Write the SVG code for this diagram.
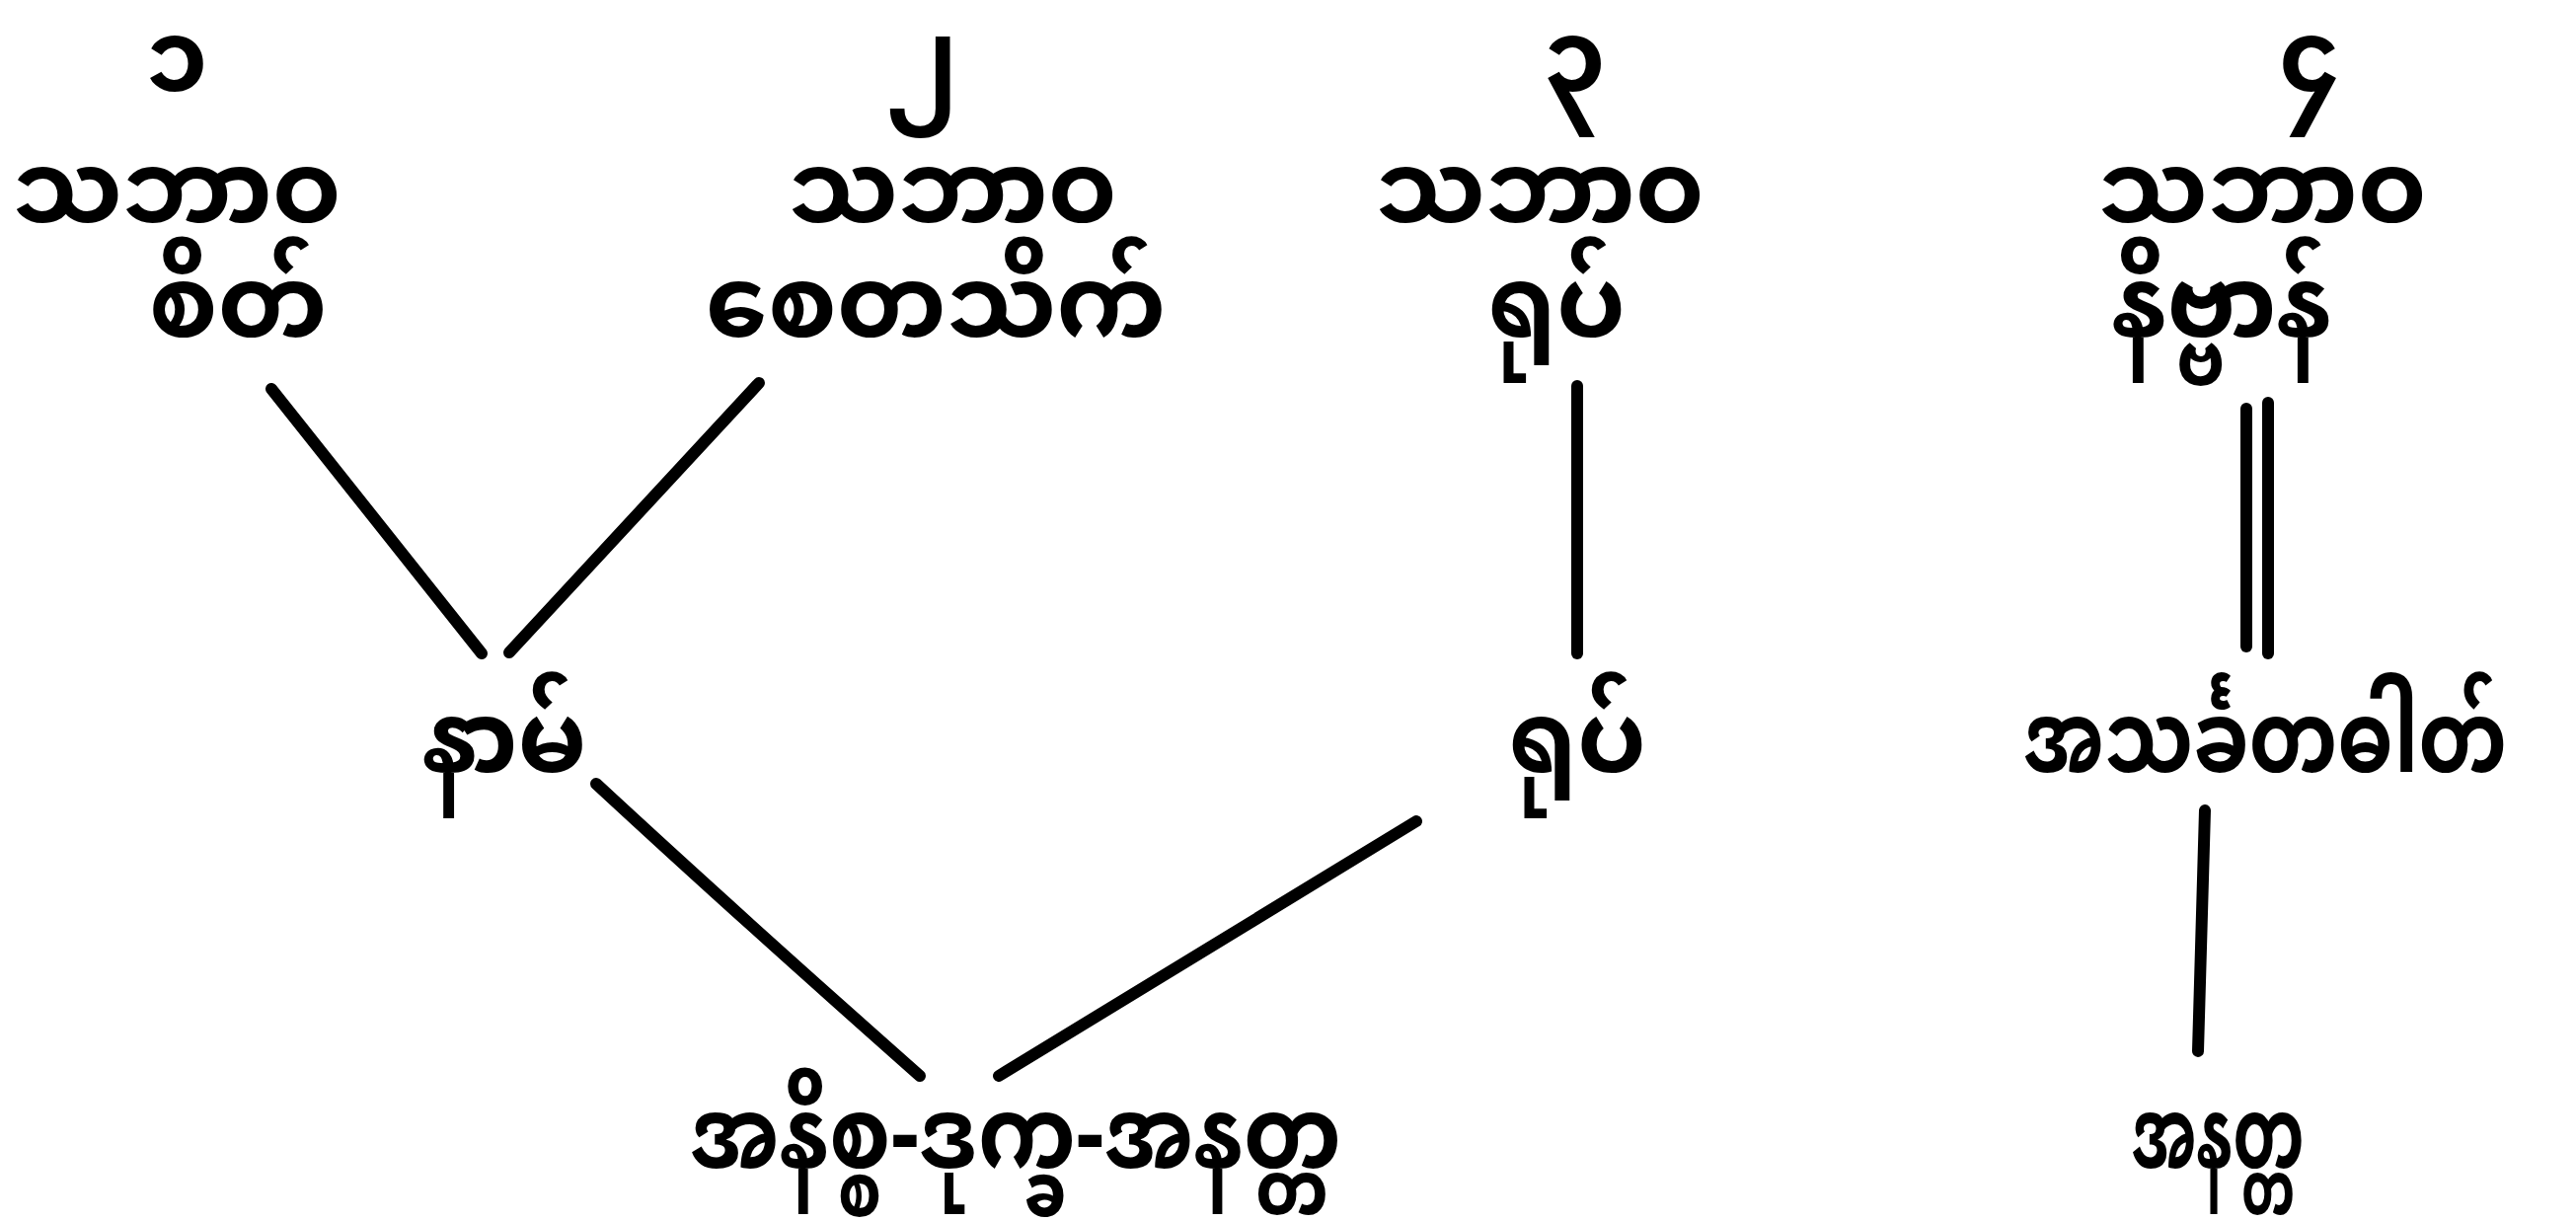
<svg xmlns="http://www.w3.org/2000/svg" width="2610" height="1237" viewBox="0 0 2610 1237">
<style>
text{font-family:"Noto Sans Myanmar","Padauk","Myanmar Text","Noto Sans",sans-serif;font-size:100px;font-weight:bold;fill:#000;text-anchor:middle}
.ln{stroke:#000;stroke-width:12;stroke-linecap:round;fill:none}
</style>
<rect width="2610" height="1237" fill="#fff"/>
<g id="n1">
<text x="179" y="92">၁</text>
<text x="179" y="225">သဘာဝ</text>
<text x="241" y="341">စိတ်</text>
</g>
<g id="n2">
<text x="934" y="92">၂</text>
<text x="965" y="225">သဘာဝ</text>
<text x="948" y="341">စေတသိက်</text>
</g>
<g id="n3">
<text x="1595" y="92">၃</text>
<text x="1560" y="225">သဘာဝ</text>
<text x="1577" y="341">ရုပ်</text>
</g>
<g id="n4">
<text x="2340" y="92">၄</text>
<text x="2292" y="225">သဘာဝ</text>
<text x="2251" y="341">နိဗ္ဗာန်</text>
</g>
<g id="nam"><text x="511" y="782">နာမ်</text></g>
<g id="rupa"><text x="1598" y="782">ရုပ်</text></g>
<g id="asankhata"><text x="2295" y="782" textLength="490" lengthAdjust="spacingAndGlyphs">အသင်္ခတဓါတ်</text></g>
<g id="ti"><text x="1029" y="1183" textLength="660" lengthAdjust="spacingAndGlyphs">အနိစ္စ-ဒုက္ခ-အနတ္တ</text></g>
<g id="anatta"><text x="2247" y="1183" textLength="175" lengthAdjust="spacingAndGlyphs">အနတ္တ</text></g>
<g id="connectors" class="ln">
<line x1="275" y1="394" x2="488" y2="662"/>
<line x1="769" y1="388" x2="516" y2="661"/>
<line x1="1598" y1="391" x2="1598" y2="662"/>
<line x1="2276" y1="414" x2="2276" y2="655"/>
<line x1="2298" y1="408" x2="2298" y2="662"/>
<path d="M604,794 Q740,920 932,1090"/>
<line x1="1435" y1="832" x2="1012" y2="1090"/>
<line x1="2234" y1="821" x2="2227" y2="1065"/>
</g>
</svg>
